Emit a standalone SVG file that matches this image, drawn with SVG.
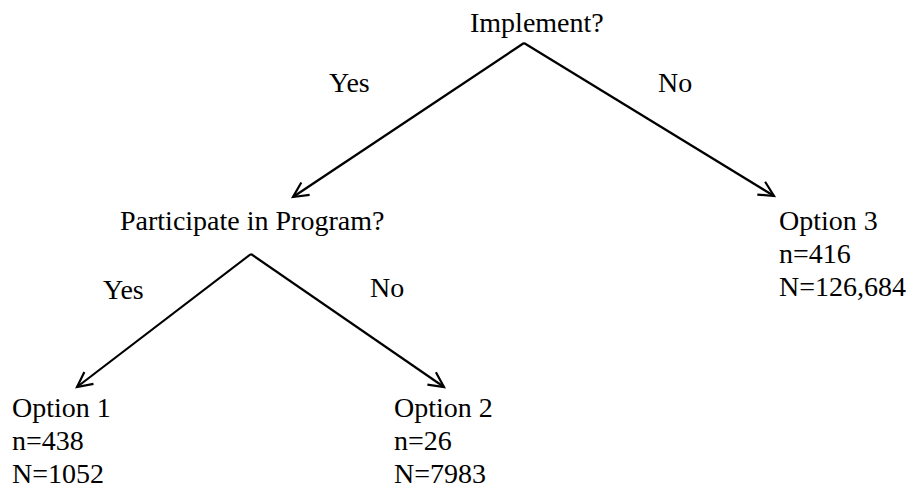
<svg xmlns="http://www.w3.org/2000/svg" width="914" height="488" viewBox="0 0 914 488">
  <style>
    .lbl { font-family: 'Liberation Serif', 'DejaVu Serif', 'Times New Roman', serif; font-size: 28px; fill: #000; }
    .edge { stroke: #000; stroke-width: 2.2; fill: none; marker-end: url(#open-arrow); }
  </style>
  <defs>
    <marker id="open-arrow" markerUnits="userSpaceOnUse" markerWidth="22" markerHeight="22" viewBox="0 0 22 22" refX="19" refY="11" orient="auto">
      <path d="M4,3.5 L19,11 L4,18.5" fill="none" stroke="#000" stroke-width="2.2" stroke-linejoin="miter"/>
    </marker>
  </defs>

  <rect width="914" height="488" fill="#fff"/>

  <!-- connectors -->
  <g id="connectors">
    <line class="edge" x1="524" y1="43" x2="293" y2="197"/>
    <line class="edge" x1="524" y1="43" x2="774" y2="196"/>
    <line class="edge" x1="251" y1="254" x2="77" y2="387"/>
    <line class="edge" x1="251" y1="254" x2="444" y2="387"/>
    <g class="lbl" font-family="Liberation Serif, serif">
      <text x="329" y="92">Yes</text>
      <text x="658" y="92">No</text>
      <text x="103" y="299">Yes</text>
      <text x="370" y="297">No</text>
    </g>
  </g>

  <!-- decision nodes -->
  <g id="implement" class="lbl" font-family="Liberation Serif, serif">
    <text x="470" y="32">Implement?</text>
  </g>
  <g id="participate" class="lbl" font-family="Liberation Serif, serif">
    <text x="120" y="230">Participate in Program?</text>
  </g>

  <!-- outcome nodes -->
  <g id="option3" class="lbl" font-family="Liberation Serif, serif">
    <text x="779" y="230">Option 3</text>
    <text x="779" y="263">n=416</text>
    <text x="779" y="296">N=126,684</text>
  </g>
  <g id="option1" class="lbl" font-family="Liberation Serif, serif">
    <text x="12" y="417">Option 1</text>
    <text x="12" y="450">n=438</text>
    <text x="12" y="483">N=1052</text>
  </g>
  <g id="option2" class="lbl" font-family="Liberation Serif, serif">
    <text x="394" y="417">Option 2</text>
    <text x="394" y="450">n=26</text>
    <text x="394" y="483">N=7983</text>
  </g>
</svg>
